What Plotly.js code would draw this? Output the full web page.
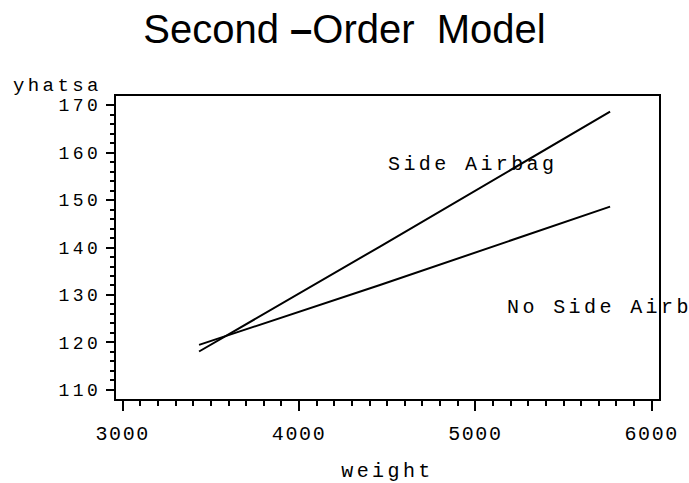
<!DOCTYPE html>
<html>
<head>
<meta charset="utf-8">
<script src="https://cdn.plot.ly/plotly-3.0.1.min.js"></script>
<style>
  html, body { margin: 0; padding: 0; background: #fff; }
  #chart { width: 689px; height: 483px; }
  .xtick text { letter-spacing: 1.6px; }
  .ytick text { letter-spacing: 3.5px; }
  .annotation-text { letter-spacing: 3.4px; }
  .g-xtitle text { letter-spacing: 3.4px; }
</style>
</head>
<body>
<div id="chart"></div>
<script>
// ---- data ----
const weightSide = [3433, 4459, 5764];
const yhatSide = [118.1, 140.2, 168.6];
const weightNoSide = [3433, 4459, 5764];
const yhatNoSide = [119.5, 132.1, 148.6];
const seriesLabels = ["Side Airbag", "No Side Airbag"];
const labelPosX = [4494, 5170];
const labelPosY = [157.4, 127.3];
const xTickVals = [3000, 4000, 5000, 6000];
const yTickVals = [110, 120, 130, 140, 150, 160, 170];

const mono = "Liberation Mono, Courier New, monospace";
const black = "#000000";

const traces = [
  { x: weightSide, y: yhatSide, mode: "lines", name: seriesLabels[0],
    line: { color: black, width: 2 }, hoverinfo: "skip" },
  { x: weightNoSide, y: yhatNoSide, mode: "lines", name: seriesLabels[1],
    line: { color: black, width: 2 }, hoverinfo: "skip" }
];

const layout = {
  width: 689, height: 483,
  margin: { l: 116, r: 30, t: 96, b: 84, pad: 0 },
  paper_bgcolor: "#ffffff", plot_bgcolor: "#ffffff",
  showlegend: false,
  title: {
    text: "Second\u00a0<b>\u2013</b>Order\u00a0\u00a0Model",
    font: { family: "Liberation Sans, Arial, sans-serif", size: 40, color: black },
    x: 0.5, xanchor: "center", xref: "container",
    y: 1 - 29 / 483, yanchor: "middle", yref: "container"
  },
  xaxis: {
    range: [2962, 6041.4],
    tickvals: xTickVals, ticktext: xTickVals.map(String),
    ticks: "outside", ticklen: 10, tickwidth: 2, tickcolor: black,
    showline: true, linewidth: 2, linecolor: black, mirror: true,
    showgrid: false, zeroline: false, ticklabelstandoff: 5,
    minor: { dtick: 100, tick0: 3000, ticks: "outside", ticklen: 5, tickwidth: 2, tickcolor: black, showgrid: false },
    tickfont: { family: mono, size: 20, color: black },
    title: { text: "weight", font: { family: mono, size: 20, color: black }, standoff: 19 }
  },
  yaxis: {
    range: [108.1, 171.9],
    tickvals: yTickVals, ticktext: yTickVals.map(String),
    ticks: "outside", ticklen: 8, tickwidth: 2, tickcolor: black,
    showline: true, linewidth: 2, linecolor: black, mirror: true,
    showgrid: false, zeroline: false, ticklabelstandoff: 1,
    minor: { dtick: 2, tick0: 110, ticks: "outside", ticklen: 4, tickwidth: 2, tickcolor: black, showgrid: false },
    tickfont: { family: mono, size: 18, color: black }
  },
  annotations: [
    { text: seriesLabels[0], x: labelPosX[0], y: labelPosY[0], xref: "x", yref: "y",
      xanchor: "left", yanchor: "middle", showarrow: false,
      font: { family: mono, size: 20, color: black } },
    { text: seriesLabels[1], x: labelPosX[1], y: labelPosY[1], xref: "x", yref: "y",
      xanchor: "left", yanchor: "middle", showarrow: false,
      font: { family: mono, size: 20, color: black } },
    { text: "yhatsa", x: (11 - 116) / 543, y: (399 - 86) / 303, xref: "paper", yref: "paper",
      xanchor: "left", yanchor: "middle", showarrow: false,
      font: { family: mono, size: 19, color: black } }
  ]
};

Plotly.newPlot("chart", traces, layout, { staticPlot: true, displayModeBar: false });
</script>
</body>
</html>
